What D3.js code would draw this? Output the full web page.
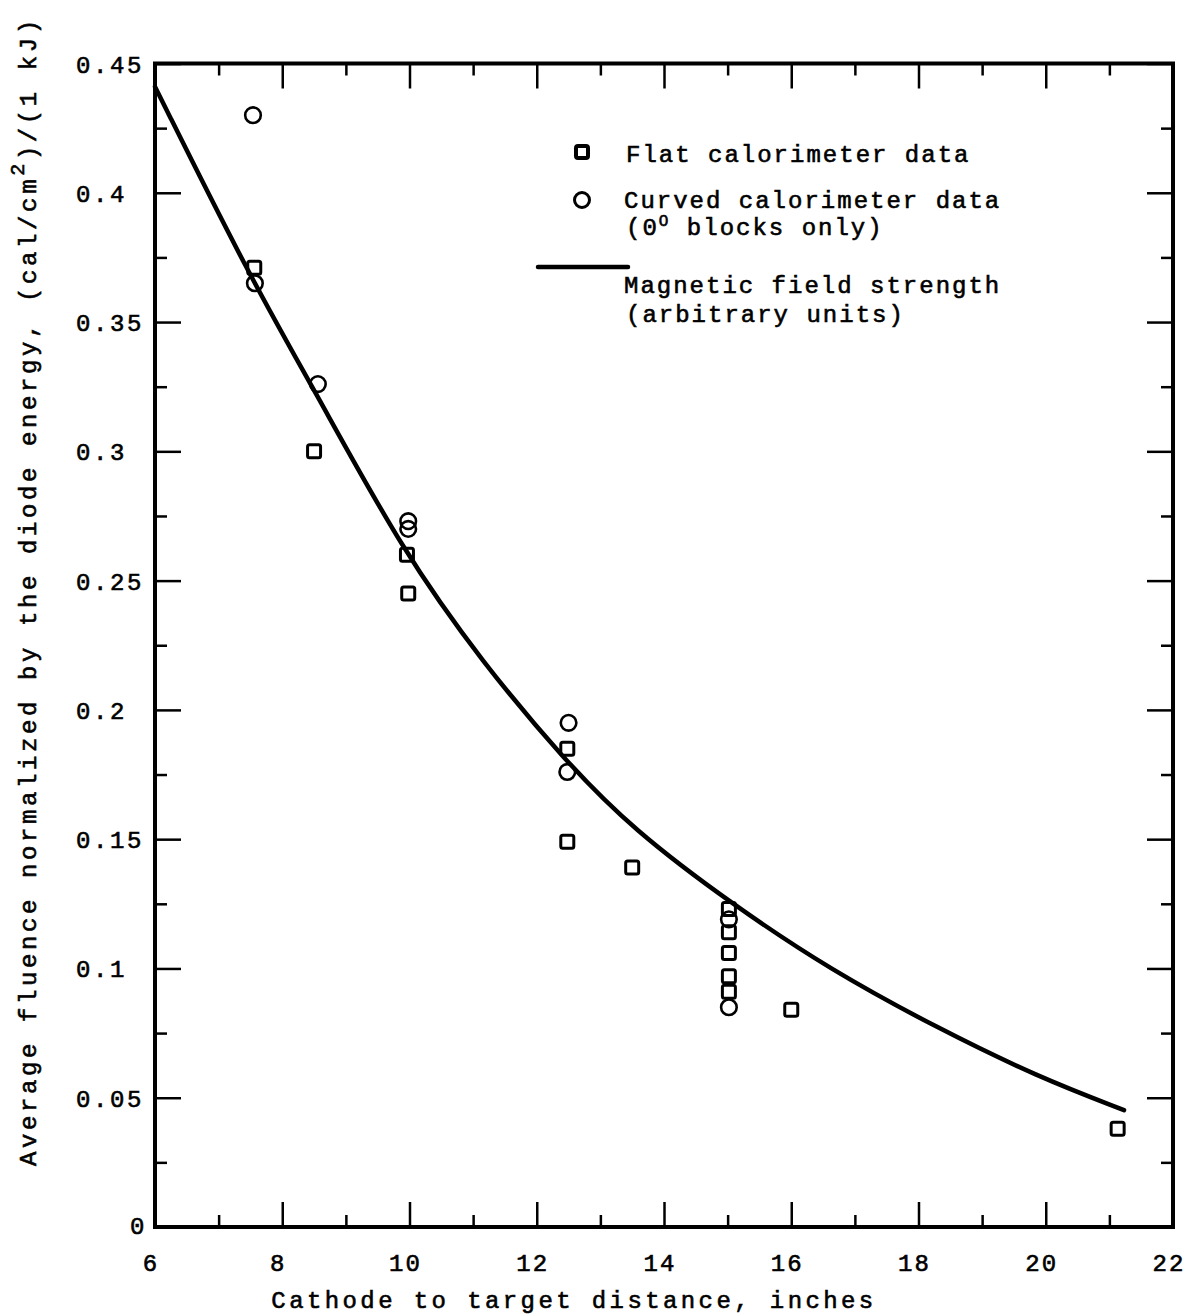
<!DOCTYPE html>
<html>
<head>
<meta charset="utf-8">
<title>Fluence vs cathode to target distance</title>
<script src="https://cdn.jsdelivr.net/npm/d3@7"></script>
<style>
  body { margin: 0; background: #fff; }
  svg { display: block; }
  text { font-family: "Liberation Mono", "DejaVu Sans Mono", monospace; fill: #000; stroke: #000; stroke-width: 0.6px; }
  .tick line { stroke: #000; stroke-width: 2.5px; }
  .domain { display: none; }
  .frame { fill: none; stroke: #000; stroke-width: 4px; }
  .field { fill: none; stroke: #000; stroke-width: 4.5px; stroke-linecap: round; }
  .flat { fill: none; stroke: #000; stroke-width: 3px; }
  .curved { fill: none; stroke: #000; stroke-width: 2.6px; }
</style>
</head>
<body>
<svg width="1195" height="1316"></svg>
<script>
// tick values / labels
var xMajor = [6, 8, 10, 12, 14, 16, 18, 20, 22]
var xLabels = ["6", "8", "10", "12", "14", "16", "18", "20", "22"]
var xMinor = [7, 9, 11, 13, 15, 17, 19, 21]
var yMajor = [0, 0.05, 0.1, 0.15, 0.2, 0.25, 0.3, 0.35, 0.4, 0.45]
var yLabels = ["0", "0.05", "0.1", "0.15", "0.2", "0.25", "0.3", "0.35", "0.4", "0.45"]
var yMinor = [0.025, 0.075, 0.125, 0.175, 0.225, 0.275, 0.325, 0.375, 0.425]

// flat calorimeter data (squares)
var flatX = [7.56, 8.5, 9.96, 9.98, 12.48, 12.48, 13.5, 15.02, 15.02, 15.02, 15.02, 15.02, 16.0, 21.13]
var flatY = [0.371, 0.300, 0.260, 0.245, 0.185, 0.149, 0.139, 0.123, 0.114, 0.106, 0.097, 0.091, 0.084, 0.038]

// curved calorimeter data (circles)
var curvedX = [7.54, 7.57, 8.56, 9.98, 9.98, 12.5, 12.48, 15.02, 15.02]
var curvedY = [0.430, 0.365, 0.326, 0.273, 0.270, 0.195, 0.176, 0.119, 0.085]

// magnetic field strength curve
var fieldX = [6, 7.5, 8.5, 9.9, 11.16, 12.42, 13.52, 15.09, 16.62, 18.3, 19.88, 21.23]
var fieldY = [0.441, 0.367, 0.324, 0.261, 0.218, 0.181, 0.1535, 0.1245, 0.0994, 0.0769, 0.058, 0.0452]

var svg = d3.select('svg')
var pLeft = 155, pRight = 1173, pTop = 63.5, pBottom = 1227

var x = d3.scaleLinear().domain([6, 22]).range([pLeft, pRight])
var y = d3.scaleLinear().domain([0, 0.45]).range([pBottom, pTop])

// ticks: inward on all four sides
function ticks(axis, vals, size, tx, ty) {
  return svg.append('g')
    .attr('transform', 'translate(' + tx + ',' + ty + ')')
    .call(axis.tickValues(vals).tickSize(size).tickSizeOuter(0).tickFormat(''))
}
ticks(d3.axisBottom(x), xMajor, -25, 0, pBottom)
ticks(d3.axisBottom(x), xMinor, -12, 0, pBottom)
ticks(d3.axisTop(x), xMajor, -25, 0, pTop)
ticks(d3.axisTop(x), xMinor, -12, 0, pTop)
ticks(d3.axisLeft(y), yMajor, -26, pLeft, 0)
ticks(d3.axisLeft(y), yMinor, -12, pLeft, 0)
ticks(d3.axisRight(y), yMajor, -26, pRight, 0)
ticks(d3.axisRight(y), yMinor, -12, pRight, 0)

svg.append('rect').attr('class', 'frame')
  .attr('x', pLeft).attr('y', pTop)
  .attr('width', pRight - pLeft).attr('height', pBottom - pTop)

// tick labels
svg.append('g').selectAll('text')
  .data(xMajor)
  .enter().append('text')
  .attr('x', function(d) { return x(d) - 4 })
  .attr('y', pBottom + 44)
  .attr('text-anchor', 'middle')
  .style('font-size', '24px')
  .style('letter-spacing', '2px')
  .text(function(d, i) { return xLabels[i] })

svg.append('g').selectAll('text')
  .data(yMajor)
  .enter().append('text')
  .attr('x', function(d) { return d === 0 ? 130 : 76 })
  .attr('y', function(d) { return d === 0 ? y(d) + 7 : y(d) + 9 })
  .style('font-size', '24px')
  .style('letter-spacing', '2.6px')
  .text(function(d, i) { return yLabels[i] })

// magnetic field curve, smoothed through the read points
var line = d3.line()
  .x(function(d) { return x(d[0]) })
  .y(function(d) { return y(d[1]) })
  .curve(d3.curveBasis)

svg.append('path').attr('class', 'field')
  .attr('d', line(d3.zip(fieldX, fieldY)))

// markers
svg.append('g').selectAll('rect')
  .data(d3.zip(flatX, flatY))
  .enter().append('rect')
  .attr('class', 'flat')
  .attr('x', function(d) { return x(d[0]) - 6.5 })
  .attr('y', function(d) { return y(d[1]) - 6.5 })
  .attr('width', 13).attr('height', 13).attr('rx', 2)

svg.append('g').selectAll('circle')
  .data(d3.zip(curvedX, curvedY))
  .enter().append('circle')
  .attr('class', 'curved')
  .attr('cx', function(d) { return x(d[0]) })
  .attr('cy', function(d) { return y(d[1]) })
  .attr('r', 7.8)

// legend
var lg = svg.append('g').style('font-size', '24px').style('letter-spacing', '2px')
lg.append('rect').attr('class', 'flat').style('stroke-width', '4px')
  .attr('x', 576).attr('y', 146).attr('width', 12).attr('height', 12).attr('rx', 2)
lg.append('circle').attr('class', 'curved').style('stroke-width', '3px')
  .attr('cx', 582).attr('cy', 200).attr('r', 7.5)
lg.append('line').attr('class', 'field')
  .attr('x1', 538).attr('x2', 628).attr('y1', 267).attr('y2', 267)
lg.append('text').attr('x', 626).attr('y', 162).text('Flat calorimeter data')
lg.append('text').attr('x', 624).attr('y', 208).text('Curved calorimeter data')
var t3 = lg.append('text').attr('x', 626).attr('y', 235)
t3.append('tspan').text('(0')
t3.append('tspan').attr('dy', -9).style('font-size', '16px').text('O')
t3.append('tspan').attr('dy', 9).text(' blocks only)')
lg.append('text').attr('x', 624).attr('y', 293).text('Magnetic field strength')
lg.append('text').attr('x', 626).attr('y', 322).text('(arbitrary units)')

// axis titles
svg.append('text')
  .attr('x', (272 + 876) / 2).attr('y', 1308)
  .attr('text-anchor', 'middle')
  .style('font-size', '24px')
  .style('letter-spacing', '3.4px')
  .text('Cathode to target distance, inches')

var yt = svg.append('text')
  .attr('transform', 'translate(36,' + 1166 + ') rotate(-90)')
  .style('font-size', '24px')
  .style('letter-spacing', '3.6px')
yt.append('tspan').text('Average fluence normalized by the diode energy,  (cal/cm')
yt.append('tspan').attr('dy', -12).style('font-size', '20px').text('2')
yt.append('tspan').attr('dy', 12).text(')/(1 kJ)')
</script>
</body>
</html>
